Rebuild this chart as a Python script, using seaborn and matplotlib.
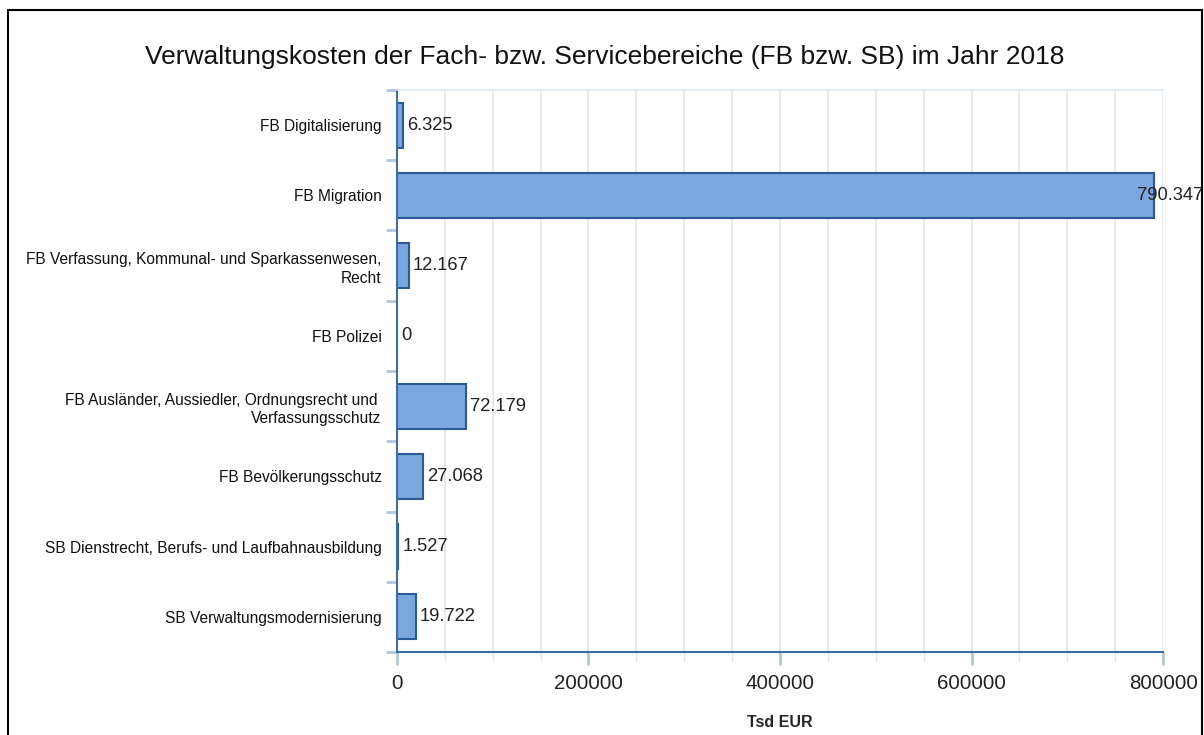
import pandas as pd
import seaborn as sns
import matplotlib.pyplot as plt
from matplotlib.patches import Rectangle
from matplotlib.ticker import MultipleLocator, FixedLocator

# Data (Tsd EUR)
bereiche = [
    "FB Digitalisierung",
    "FB Migration",
    "FB Verfassung, Kommunal- und Sparkassenwesen,\nRecht",
    "FB Polizei",
    "FB Ausländer, Aussiedler, Ordnungsrecht und \nVerfassungsschutz",
    "FB Bevölkerungsschutz",
    "SB Dienstrecht, Berufs- und Laufbahnausbildung",
    "SB Verwaltungsmodernisierung",
]
kosten = [6325, 790347, 12167, 0, 72179, 27068, 1527, 19722]
x_ticks = [0, 200000, 400000, 600000, 800000]

title = "Verwaltungskosten der Fach- bzw. Servicebereiche (FB bzw. SB) im Jahr 2018"

BAR = "#7ba6de"
EDGE = "#2a5a98"
SPINE = "#3a6ea8"
GRID = "#dce8f5"
TICK = "#b4c6dc"


def de_format(v):
    return f"{v:,}".replace(",", ".")


def make_chart():
    df = pd.DataFrame({"bereich": bereiche, "kosten": kosten})

    sns.set_style("white")
    plt.rcParams["font.family"] = ["Liberation Sans", "DejaVu Sans"]

    fig = plt.figure(figsize=(12.04, 7.35), dpi=100)
    ax = fig.add_axes([0.3297, 0.1129, 0.6363, 0.7647])

    sns.barplot(data=df, y="bereich", x="kosten", orient="h", color=BAR,
                saturation=1, edgecolor=EDGE, linewidth=1.5, width=0.64, ax=ax)

    ax.set_xlim(0, 800000)
    ax.set_ylim(len(bereiche) - 0.5, -0.5)

    # x axis: major ticks with labels, minor grid every 50000
    ax.xaxis.set_major_locator(FixedLocator(x_ticks))
    ax.xaxis.set_minor_locator(MultipleLocator(50000))
    ax.set_xticklabels([str(t) for t in x_ticks])
    ax.grid(True, axis="x", which="both", color=GRID, lw=1.2)
    ax.set_axisbelow(True)
    ax.tick_params(axis="x", which="both", bottom=True)
    ax.tick_params(axis="x", which="major", length=9, width=2, color=TICK,
                   labelsize=14.8, pad=7, labelcolor="#222222")
    ax.tick_params(axis="x", which="minor", length=7, width=1, color=GRID)

    # y axis: labels at centres, ticks at band boundaries
    ax.tick_params(axis="y", which="both", left=True)
    ax.tick_params(axis="y", which="major", length=0, pad=11, labelsize=11.2,
                   labelcolor="#111111")
    ax.yaxis.set_minor_locator(FixedLocator([i - 0.5 for i in range(len(bereiche) + 1)]))
    ax.tick_params(axis="y", which="minor", length=8, width=2, color=TICK)
    for lbl in ax.get_yticklabels():
        lbl.set_horizontalalignment("right")
        lbl.set_multialignment("right")
        lbl.set_linespacing(1.3)

    for side in ["left", "bottom"]:
        ax.spines[side].set_color(SPINE)
        ax.spines[side].set_linewidth(1.5)
    ax.spines["top"].set_color(GRID)
    ax.spines["top"].set_linewidth(1.2)
    ax.spines["right"].set_visible(False)

    ax.set_ylabel("")
    ax.set_xlabel("Tsd EUR", fontsize=11.5, fontweight="bold", labelpad=16)

    # value labels
    vmax = max(kosten)
    for i, v in enumerate(kosten):
        if v == vmax:
            ax.annotate(de_format(v), xy=(1.0, i), xycoords=("axes fraction", "data"),
                        xytext=(40, 0), textcoords="offset pixels",
                        ha="right", va="center", fontsize=13.2, color="#222222",
                        annotation_clip=False)
        else:
            ax.annotate(de_format(v), xy=(v, i), xytext=(4, 0),
                        textcoords="offset pixels", ha="left", va="center",
                        fontsize=13.2, color="#222222")

    fig.text(0.5025, 0.922, title, ha="center", va="center", fontsize=19,
             color="#111111")

    # outer frame
    frame = Rectangle((8 / 1204, -0.05), 1194 / 1204, 1.05 - 10 / 735,
                      transform=fig.transFigure, fill=False, ec="black",
                      lw=1.5, clip_on=False)
    fig.patches.append(frame)

    fig.savefig("out.png", dpi=100)


if __name__ == "__main__":
    make_chart()
